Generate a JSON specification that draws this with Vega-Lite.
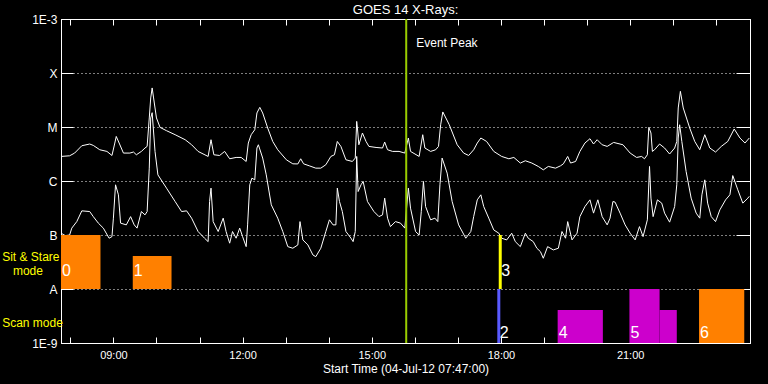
{
"$schema":"https://vega.github.io/schema/vega-lite/v6.json",
"width":689,"height":324,
"autosize":{"type":"none"},
"padding":{"left":61,"top":19,"right":18,"bottom":41},
"background":"#000000",
"title":{"text":"GOES 14 X-Rays:","color":"#ffffff","fontSize":13,"font":"Liberation Sans","fontWeight":"normal","offset":-4},
"config":{"view":{"stroke":"#ffffff","strokeWidth":1},"font":"Liberation Sans",
 "axis":{"domainColor":"#ffffff","tickColor":"#ffffff","labelColor":"#ffffff","titleColor":"#ffffff","labelFont":"Liberation Sans","titleFont":"Liberation Sans","titleFontWeight":"normal","labelFontSize":12,"domainWidth":1,"tickWidth":1}},
"resolve":{"axis":{"x":"independent","y":"independent"}},
"layer":[
{
"data":{"format":{"parse":{"t":"utc:'%H:%M'"}},"values":[
{"ch":"L","t":"07:47","f":2.85e-6},{"ch":"L","t":"07:59","f":2.93e-6},{"ch":"L","t":"08:06","f":3.29e-6},{"ch":"L","t":"08:16","f":4.50e-6},{"ch":"L","t":"08:27","f":4.84e-6},{"ch":"L","t":"08:32","f":4.56e-6},{"ch":"L","t":"08:41","f":3.79e-6},{"ch":"L","t":"08:51","f":3.53e-6},{"ch":"L","t":"08:58","f":2.97e-6},{"ch":"L","t":"09:02","f":5.05e-6},{"ch":"L","t":"09:04","f":6.69e-6},{"ch":"L","t":"09:08","f":5.05e-6},{"ch":"L","t":"09:14","f":3.29e-6},{"ch":"L","t":"09:23","f":3.29e-6},{"ch":"L","t":"09:28","f":3.44e-6},{"ch":"L","t":"09:32","f":3.06e-6},{"ch":"L","t":"09:39","f":3.53e-6},{"ch":"L","t":"09:44","f":4.08e-6},{"ch":"L","t":"09:47","f":4.37e-6},{"ch":"L","t":"09:50","f":1.47e-5},{"ch":"L","t":"09:52","f":3.45e-5},{"ch":"L","t":"09:54","f":5.29e-5},{"ch":"L","t":"09:56","f":3.45e-5},{"ch":"L","t":"10:00","f":1.47e-5},{"ch":"L","t":"10:05","f":9.83e-6},{"ch":"L","t":"10:14","f":8.54e-6},{"ch":"L","t":"10:26","f":7.20e-6},{"ch":"L","t":"10:40","f":5.81e-6},{"ch":"L","t":"10:49","f":4.69e-6},{"ch":"L","t":"10:58","f":3.53e-6},{"ch":"L","t":"11:12","f":2.85e-6},{"ch":"L","t":"11:16","f":5.81e-6},{"ch":"L","t":"11:20","f":3.06e-6},{"ch":"L","t":"11:28","f":2.97e-6},{"ch":"L","t":"11:35","f":3.53e-6},{"ch":"L","t":"11:42","f":2.58e-6},{"ch":"L","t":"11:51","f":2.73e-6},{"ch":"L","t":"11:58","f":2.73e-6},{"ch":"L","t":"12:05","f":2.30e-6},{"ch":"L","t":"12:08","f":5.05e-6},{"ch":"L","t":"12:12","f":7.20e-6},{"ch":"L","t":"12:17","f":8.91e-6},{"ch":"L","t":"12:20","f":1.82e-5},{"ch":"L","t":"12:24","f":2.31e-5},{"ch":"L","t":"12:28","f":1.82e-5},{"ch":"L","t":"12:35","f":9.58e-6},{"ch":"L","t":"12:42","f":5.40e-6},{"ch":"L","t":"12:49","f":3.79e-6},{"ch":"L","t":"13:01","f":2.47e-6},{"ch":"L","t":"13:10","f":2.08e-6},{"ch":"L","t":"13:17","f":2.07e-6},{"ch":"L","t":"13:21","f":2.58e-6},{"ch":"L","t":"13:25","f":2.08e-6},{"ch":"L","t":"13:33","f":1.91e-6},{"ch":"L","t":"13:42","f":1.73e-6},{"ch":"L","t":"13:49","f":1.73e-6},{"ch":"L","t":"13:56","f":2.00e-6},{"ch":"L","t":"14:03","f":2.85e-6},{"ch":"L","t":"14:08","f":3.06e-6},{"ch":"L","t":"14:12","f":5.40e-6},{"ch":"L","t":"14:17","f":4.37e-6},{"ch":"L","t":"14:24","f":2.47e-6},{"ch":"L","t":"14:33","f":2.30e-6},{"ch":"L","t":"14:37","f":2.66e-6},{"ch":"L","t":"14:39","f":1.27e-5},{"ch":"L","t":"14:40","f":9.58e-6},{"ch":"L","t":"14:42","f":4.69e-6},{"ch":"L","t":"14:47","f":7.74e-6},{"ch":"L","t":"14:52","f":5.40e-6},{"ch":"L","t":"14:56","f":4.37e-6},{"ch":"L","t":"15:06","f":4.18e-6},{"ch":"L","t":"15:15","f":4.08e-6},{"ch":"L","t":"15:18","f":5.27e-6},{"ch":"L","t":"15:22","f":3.79e-6},{"ch":"L","t":"15:29","f":3.53e-6},{"ch":"L","t":"15:38","f":3.53e-6},{"ch":"L","t":"15:46","f":3.29e-6},{"ch":"L","t":"15:51","f":6.25e-6},{"ch":"L","t":"15:54","f":3.53e-6},{"ch":"L","t":"16:06","f":2.85e-6},{"ch":"L","t":"16:11","f":7.20e-6},{"ch":"L","t":"16:14","f":4.08e-6},{"ch":"L","t":"16:22","f":3.53e-6},{"ch":"L","t":"16:29","f":3.79e-6},{"ch":"L","t":"16:33","f":4.37e-6},{"ch":"L","t":"16:36","f":1.10e-5},{"ch":"L","t":"16:39","f":1.90e-5},{"ch":"L","t":"16:48","f":1.10e-5},{"ch":"L","t":"16:59","f":4.69e-6},{"ch":"L","t":"17:08","f":3.29e-6},{"ch":"L","t":"17:15","f":2.97e-6},{"ch":"L","t":"17:22","f":3.79e-6},{"ch":"L","t":"17:27","f":5.05e-6},{"ch":"L","t":"17:32","f":6.25e-6},{"ch":"L","t":"17:40","f":5.40e-6},{"ch":"L","t":"17:50","f":3.53e-6},{"ch":"L","t":"18:01","f":2.85e-6},{"ch":"L","t":"18:11","f":2.58e-6},{"ch":"L","t":"18:18","f":2.73e-6},{"ch":"L","t":"18:27","f":2.15e-6},{"ch":"L","t":"18:34","f":2.37e-6},{"ch":"L","t":"18:43","f":2.15e-6},{"ch":"L","t":"18:52","f":1.86e-6},{"ch":"L","t":"18:59","f":1.61e-6},{"ch":"L","t":"19:06","f":1.86e-6},{"ch":"L","t":"19:16","f":1.73e-6},{"ch":"L","t":"19:23","f":1.91e-6},{"ch":"L","t":"19:27","f":2.08e-6},{"ch":"L","t":"19:33","f":2.85e-6},{"ch":"L","t":"19:37","f":2.15e-6},{"ch":"L","t":"19:44","f":2.30e-6},{"ch":"L","t":"19:50","f":3.53e-6},{"ch":"L","t":"19:57","f":5.05e-6},{"ch":"L","t":"20:04","f":6.07e-6},{"ch":"L","t":"20:09","f":4.84e-6},{"ch":"L","t":"20:14","f":5.81e-6},{"ch":"L","t":"20:21","f":4.69e-6},{"ch":"L","t":"20:28","f":4.37e-6},{"ch":"L","t":"20:37","f":5.18e-6},{"ch":"L","t":"20:50","f":4.69e-6},{"ch":"L","t":"21:00","f":3.29e-6},{"ch":"L","t":"21:09","f":2.73e-6},{"ch":"L","t":"21:16","f":2.85e-6},{"ch":"L","t":"21:20","f":2.58e-6},{"ch":"L","t":"21:24","f":3.06e-6},{"ch":"L","t":"21:26","f":9.83e-6},{"ch":"L","t":"21:29","f":7.74e-6},{"ch":"L","t":"21:31","f":3.53e-6},{"ch":"L","t":"21:34","f":3.79e-6},{"ch":"L","t":"21:41","f":4.84e-6},{"ch":"L","t":"21:48","f":4.08e-6},{"ch":"L","t":"21:55","f":3.16e-6},{"ch":"L","t":"22:02","f":4.08e-6},{"ch":"L","t":"22:05","f":5.40e-6},{"ch":"L","t":"22:07","f":2.25e-5},{"ch":"L","t":"22:10","f":4.57e-5},{"ch":"L","t":"22:14","f":2.25e-5},{"ch":"L","t":"22:23","f":9.58e-6},{"ch":"L","t":"22:30","f":5.40e-6},{"ch":"L","t":"22:37","f":3.79e-6},{"ch":"L","t":"22:44","f":7.20e-6},{"ch":"L","t":"22:51","f":4.08e-6},{"ch":"L","t":"22:59","f":3.44e-6},{"ch":"L","t":"23:07","f":4.37e-6},{"ch":"L","t":"23:16","f":5.40e-6},{"ch":"L","t":"23:25","f":9.18e-6},{"ch":"L","t":"23:33","f":6.25e-6},{"ch":"L","t":"23:40","f":5.05e-6},{"ch":"L","t":"23:46","f":6.25e-6},
{"ch":"S","t":"07:47","f":1.08e-7},{"ch":"S","t":"07:53","f":9.75e-8},{"ch":"S","t":"07:59","f":1.00e-7},{"ch":"S","t":"08:02","f":1.34e-7},{"ch":"S","t":"08:09","f":1.77e-7},{"ch":"S","t":"08:16","f":2.80e-7},{"ch":"S","t":"08:27","f":2.72e-7},{"ch":"S","t":"08:32","f":2.19e-7},{"ch":"S","t":"08:39","f":1.66e-7},{"ch":"S","t":"08:46","f":1.34e-7},{"ch":"S","t":"08:54","f":8.72e-8},{"ch":"S","t":"08:58","f":9.34e-8},{"ch":"S","t":"09:00","f":2.05e-7},{"ch":"S","t":"09:03","f":8.50e-7},{"ch":"S","t":"09:07","f":5.55e-7},{"ch":"S","t":"09:10","f":1.66e-7},{"ch":"S","t":"09:18","f":1.54e-7},{"ch":"S","t":"09:24","f":2.19e-7},{"ch":"S","t":"09:29","f":1.54e-7},{"ch":"S","t":"09:33","f":1.34e-7},{"ch":"S","t":"09:39","f":2.72e-7},{"ch":"S","t":"09:44","f":2.36e-7},{"ch":"S","t":"09:47","f":2.72e-7},{"ch":"S","t":"09:50","f":1.73e-6},{"ch":"S","t":"09:52","f":1.47e-5},{"ch":"S","t":"09:54","f":1.84e-5},{"ch":"S","t":"09:58","f":3.53e-6},{"ch":"S","t":"10:02","f":1.30e-6},{"ch":"S","t":"10:14","f":7.38e-7},{"ch":"S","t":"10:26","f":4.17e-7},{"ch":"S","t":"10:35","f":2.72e-7},{"ch":"S","t":"10:42","f":2.80e-7},{"ch":"S","t":"10:49","f":2.05e-7},{"ch":"S","t":"10:58","f":1.16e-7},{"ch":"S","t":"11:07","f":8.72e-8},{"ch":"S","t":"11:12","f":7.54e-8},{"ch":"S","t":"11:14","f":4.17e-7},{"ch":"S","t":"11:16","f":7.38e-7},{"ch":"S","t":"11:19","f":1.77e-7},{"ch":"S","t":"11:26","f":1.16e-7},{"ch":"S","t":"11:33","f":2.05e-7},{"ch":"S","t":"11:37","f":1.16e-7},{"ch":"S","t":"11:42","f":7.05e-8},{"ch":"S","t":"11:46","f":1.16e-7},{"ch":"S","t":"11:51","f":8.72e-8},{"ch":"S","t":"11:56","f":1.34e-7},{"ch":"S","t":"12:00","f":9.34e-8},{"ch":"S","t":"12:05","f":6.09e-8},{"ch":"S","t":"12:07","f":1.54e-7},{"ch":"S","t":"12:10","f":8.50e-7},{"ch":"S","t":"12:13","f":1.13e-6},{"ch":"S","t":"12:17","f":1.05e-6},{"ch":"S","t":"12:20","f":4.08e-6},{"ch":"S","t":"12:22","f":4.69e-6},{"ch":"S","t":"12:28","f":2.66e-6},{"ch":"S","t":"12:33","f":1.30e-6},{"ch":"S","t":"12:40","f":3.62e-7},{"ch":"S","t":"12:49","f":2.05e-7},{"ch":"S","t":"12:56","f":1.16e-7},{"ch":"S","t":"13:03","f":6.09e-8},{"ch":"S","t":"13:10","f":5.69e-8},{"ch":"S","t":"13:17","f":6.55e-8},{"ch":"S","t":"13:20","f":1.77e-7},{"ch":"S","t":"13:24","f":8.11e-8},{"ch":"S","t":"13:31","f":6.55e-8},{"ch":"S","t":"13:38","f":4.27e-8},{"ch":"S","t":"13:42","f":3.97e-8},{"ch":"S","t":"13:49","f":5.69e-8},{"ch":"S","t":"13:56","f":1.16e-7},{"ch":"S","t":"14:01","f":1.91e-7},{"ch":"S","t":"14:06","f":1.54e-7},{"ch":"S","t":"14:10","f":1.54e-7},{"ch":"S","t":"14:12","f":7.38e-7},{"ch":"S","t":"14:15","f":4.17e-7},{"ch":"S","t":"14:19","f":2.72e-7},{"ch":"S","t":"14:24","f":1.16e-7},{"ch":"S","t":"14:31","f":8.72e-8},{"ch":"S","t":"14:34","f":7.54e-8},{"ch":"S","t":"14:37","f":1.16e-7},{"ch":"S","t":"14:39","f":2.85e-6},{"ch":"S","t":"14:41","f":6.38e-7},{"ch":"S","t":"14:45","f":8.50e-7},{"ch":"S","t":"14:48","f":9.79e-7},{"ch":"S","t":"14:54","f":4.17e-7},{"ch":"S","t":"15:03","f":2.72e-7},{"ch":"S","t":"15:10","f":2.19e-7},{"ch":"S","t":"15:15","f":2.36e-7},{"ch":"S","t":"15:18","f":4.82e-7},{"ch":"S","t":"15:22","f":2.05e-7},{"ch":"S","t":"15:26","f":1.43e-7},{"ch":"S","t":"15:33","f":1.77e-7},{"ch":"S","t":"15:40","f":1.66e-7},{"ch":"S","t":"15:46","f":1.34e-7},{"ch":"S","t":"15:51","f":7.38e-7},{"ch":"S","t":"15:54","f":3.14e-7},{"ch":"S","t":"16:01","f":1.16e-7},{"ch":"S","t":"16:06","f":1.00e-7},{"ch":"S","t":"16:09","f":2.72e-7},{"ch":"S","t":"16:12","f":9.79e-7},{"ch":"S","t":"16:15","f":3.36e-7},{"ch":"S","t":"16:22","f":1.91e-7},{"ch":"S","t":"16:28","f":2.05e-7},{"ch":"S","t":"16:32","f":1.77e-7},{"ch":"S","t":"16:35","f":8.50e-7},{"ch":"S","t":"16:38","f":2.66e-6},{"ch":"S","t":"16:45","f":1.40e-6},{"ch":"S","t":"16:52","f":4.17e-7},{"ch":"S","t":"17:01","f":1.54e-7},{"ch":"S","t":"17:11","f":8.72e-8},{"ch":"S","t":"17:18","f":1.16e-7},{"ch":"S","t":"17:22","f":2.19e-7},{"ch":"S","t":"17:27","f":4.48e-7},{"ch":"S","t":"17:32","f":5.55e-7},{"ch":"S","t":"17:36","f":3.36e-7},{"ch":"S","t":"17:43","f":2.05e-7},{"ch":"S","t":"17:50","f":1.24e-7},{"ch":"S","t":"17:57","f":1.08e-7},{"ch":"S","t":"18:01","f":8.72e-8},{"ch":"S","t":"18:08","f":8.11e-8},{"ch":"S","t":"18:15","f":1.08e-7},{"ch":"S","t":"18:20","f":7.54e-8},{"ch":"S","t":"18:27","f":6.09e-8},{"ch":"S","t":"18:34","f":1.08e-7},{"ch":"S","t":"18:38","f":8.72e-8},{"ch":"S","t":"18:45","f":7.54e-8},{"ch":"S","t":"18:50","f":5.69e-8},{"ch":"S","t":"18:55","f":4.92e-8},{"ch":"S","t":"18:59","f":3.71e-8},{"ch":"S","t":"19:05","f":6.09e-8},{"ch":"S","t":"19:13","f":5.29e-8},{"ch":"S","t":"19:20","f":5.69e-8},{"ch":"S","t":"19:25","f":1.16e-7},{"ch":"S","t":"19:30","f":8.72e-8},{"ch":"S","t":"19:33","f":1.77e-7},{"ch":"S","t":"19:39","f":8.11e-8},{"ch":"S","t":"19:46","f":1.08e-7},{"ch":"S","t":"19:50","f":2.19e-7},{"ch":"S","t":"19:57","f":3.36e-7},{"ch":"S","t":"20:04","f":4.48e-7},{"ch":"S","t":"20:09","f":2.54e-7},{"ch":"S","t":"20:15","f":4.48e-7},{"ch":"S","t":"20:21","f":2.19e-7},{"ch":"S","t":"20:28","f":1.54e-7},{"ch":"S","t":"20:32","f":2.05e-7},{"ch":"S","t":"20:36","f":4.17e-7},{"ch":"S","t":"20:39","f":4.06e-7},{"ch":"S","t":"20:46","f":2.54e-7},{"ch":"S","t":"20:53","f":1.54e-7},{"ch":"S","t":"21:00","f":1.08e-7},{"ch":"S","t":"21:07","f":8.11e-8},{"ch":"S","t":"21:13","f":1.43e-7},{"ch":"S","t":"21:18","f":9.34e-8},{"ch":"S","t":"21:24","f":1.91e-7},{"ch":"S","t":"21:27","f":1.86e-6},{"ch":"S","t":"21:29","f":4.82e-7},{"ch":"S","t":"21:32","f":2.19e-7},{"ch":"S","t":"21:38","f":4.48e-7},{"ch":"S","t":"21:44","f":3.89e-7},{"ch":"S","t":"21:48","f":2.54e-7},{"ch":"S","t":"21:55","f":1.73e-7},{"ch":"S","t":"22:02","f":3.36e-7},{"ch":"S","t":"22:05","f":8.50e-7},{"ch":"S","t":"22:07","f":6.25e-6},{"ch":"S","t":"22:09","f":1.10e-5},{"ch":"S","t":"22:12","f":5.40e-6},{"ch":"S","t":"22:18","f":1.50e-6},{"ch":"S","t":"22:25","f":4.82e-7},{"ch":"S","t":"22:32","f":2.54e-7},{"ch":"S","t":"22:37","f":2.05e-7},{"ch":"S","t":"22:40","f":5.55e-7},{"ch":"S","t":"22:44","f":1.05e-6},{"ch":"S","t":"22:48","f":3.89e-7},{"ch":"S","t":"22:53","f":2.19e-7},{"ch":"S","t":"22:59","f":1.77e-7},{"ch":"S","t":"23:05","f":2.92e-7},{"ch":"S","t":"23:13","f":4.48e-7},{"ch":"S","t":"23:19","f":5.55e-7},{"ch":"S","t":"23:23","f":1.26e-6},{"ch":"S","t":"23:30","f":6.87e-7},{"ch":"S","t":"23:37","f":3.89e-7},{"ch":"S","t":"23:44","f":4.82e-7},{"ch":"S","t":"23:46","f":5.20e-7}
]},
"mark":{"type":"line","color":"#ffffff","strokeWidth":1},
"encoding":{
 "x":{"field":"t","type":"temporal","scale":{"type":"utc","domain":[-2208960780000,-2208903180000]},
  "axis":{"orient":"bottom","title":"Start Time (04-Jul-12 07:47:00)","titleFontSize":12,"titlePadding":3,"format":"%H:%M","values":[-2208960000000,-2208956400000,-2208952800000,-2208949200000,-2208945600000,-2208942000000,-2208938400000,-2208934800000,-2208931200000,-2208927600000,-2208924000000,-2208920400000,-2208916800000,-2208913200000,-2208909600000,-2208906000000],"labelExpr":"indexof(['09:00','12:00','15:00','18:00','21:00'], datum.label) >= 0 ? datum.label : ''","tickSize":-6,"labelPadding":12,"grid":false,"labelFlush":false,"labelOverlap":false,"labelFontSize":11}},
 "y":{"field":"f","type":"quantitative","scale":{"type":"log","domain":[1e-9,1e-3]},
  "axis":{"orient":"left","title":null,"values":[1e-9,1e-8,1e-7,1e-6,1e-5,1e-4,1e-3],"labelExpr":"datum.value < 5e-9 ? '1E-9' : datum.value < 5e-8 ? 'A' : datum.value < 5e-7 ? 'B' : datum.value < 5e-6 ? 'C' : datum.value < 5e-5 ? 'M' : datum.value < 5e-4 ? 'X' : '1E-3'","tickSize":-12,"labelPadding":16,"grid":true,"gridColor":"#ffffff","gridDash":[1,3],"gridOpacity":1,"labelOverlap":false,"labelFlush":false}},
 "detail":{"field":"ch","type":"nominal"}
}
},
{
"data":{"format":{"parse":{"t1":"utc:'%H:%M'","t2":"utc:'%H:%M'"}},"values":[
{"id":"0","t1":"07:47","t2":"08:42","lo":1e-8,"hi":1e-7,"grp":"a"},
{"id":"1","t1":"09:27","t2":"10:21","lo":1e-8,"hi":4.08e-8,"grp":"a"},
{"id":"4","t1":"19:19","t2":"20:22","lo":1e-9,"hi":4.08e-9,"grp":"b"},
{"id":"5","t1":"20:59","t2":"21:41","lo":1e-9,"hi":1e-8,"grp":"b"},
{"id":"5","t1":"21:41","t2":"22:05","lo":1e-9,"hi":4.08e-9,"grp":"b"},
{"id":"6","t1":"22:36","t2":"23:39","lo":1e-9,"hi":1e-8,"grp":"a"}
]},
"mark":{"type":"rect"},
"encoding":{
 "x":{"field":"t1","type":"temporal","axis":{"orient":"top","title":null,"labels":false,"values":[-2208960000000,-2208956400000,-2208952800000,-2208949200000,-2208945600000,-2208942000000,-2208938400000,-2208934800000,-2208931200000,-2208927600000,-2208924000000,-2208920400000,-2208916800000,-2208913200000,-2208909600000,-2208906000000],"tickSize":-6,"grid":false}},
 "x2":{"field":"t2"},
 "y":{"field":"lo","type":"quantitative","axis":{"orient":"right","title":null,"labels":false,"values":[1e-9,1e-8,1e-7,1e-6,1e-5,1e-4,1e-3],"tickSize":-14,"grid":false}},
 "y2":{"field":"hi"},
 "color":{"field":"grp","type":"nominal","scale":{"domain":["a","b","c","d"],"range":["#ff8000","#cc00cc","#5a5aff","#ffff00"]},"legend":null}
}
},
{
"data":{"format":{"parse":{"t":"utc:'%H:%M'"}},"values":[
{"id":"2","t":"17:57","lo":1e-9,"hi":1e-8,"grp":"c"},
{"id":"3","t":"17:59","lo":1e-8,"hi":1e-7,"grp":"d"}
]},
"mark":{"type":"rule","strokeWidth":3},
"encoding":{
 "x":{"field":"t","type":"temporal","axis":null},
 "y":{"field":"lo","type":"quantitative","axis":null},
 "y2":{"field":"hi"},
 "color":{"field":"grp","type":"nominal","legend":null}
}
},
{
"data":{"format":{"parse":{"t":"utc:'%H:%M'"}},"values":[{"t":"15:48"}]},
"mark":{"type":"rule","color":"#99cc00","strokeWidth":2},
"encoding":{"x":{"field":"t","type":"temporal","axis":null}}
},
{
"data":{"format":{"parse":{"t":"utc:'%H:%M'"}},"values":[{"t":"15:48","txt":"Event Peak","f":3.67e-4}]},
"mark":{"type":"text","color":"#ffffff","fontSize":12,"align":"left","baseline":"middle","dx":10},
"encoding":{"x":{"field":"t","type":"temporal","axis":null},"y":{"field":"f","type":"quantitative","axis":null},"text":{"field":"txt"}}
},
{
"data":{"format":{"parse":{"t":"utc:'%H:%M'"}},"values":[
{"id":"0","t":"07:47","f":2.11e-8},{"id":"1","t":"09:27","f":2.11e-8},{"id":"2","t":"17:57","f":1.53e-9},{"id":"3","t":"17:59","f":2.11e-8},{"id":"4","t":"19:19","f":1.53e-9},{"id":"5","t":"20:59","f":1.53e-9},{"id":"6","t":"22:36","f":1.53e-9}
]},
"mark":{"type":"text","color":"#ffffff","fontSize":16,"align":"left","baseline":"middle","dx":1},
"encoding":{"x":{"field":"t","type":"temporal","axis":null},"y":{"field":"f","type":"quantitative","axis":null},"text":{"field":"id"}}
},
{
"data":{"format":{"parse":{"t":"utc:'%H:%M'"}},"values":[
{"t":"06:25","f":3.85e-8,"txt":"Sit & Stare"},{"t":"06:40","f":2.12e-8,"txt":"mode"},{"t":"06:25","f":2.30e-9,"txt":"Scan mode"}
]},
"mark":{"type":"text","color":"#ffff00","fontSize":12,"align":"left","baseline":"middle"},
"encoding":{"x":{"field":"t","type":"temporal","axis":null},"y":{"field":"f","type":"quantitative","axis":null},"text":{"field":"txt"}}
}
]
}
